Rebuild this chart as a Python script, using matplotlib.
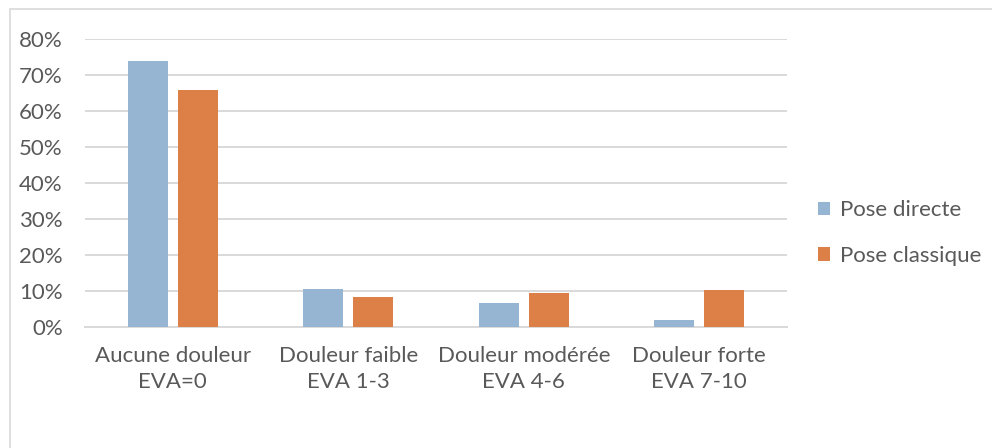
import numpy as np
import matplotlib.pyplot as plt
from matplotlib.patches import Rectangle

plt.rcParams["font.family"] = ["Lato", "DejaVu Sans"]

categories = ["Aucune douleur\nEVA=0", "Douleur faible\nEVA 1-3",
              "Douleur modérée\nEVA 4-6", "Douleur forte\nEVA 7-10"]
pose_directe = [73.8, 10.6, 6.7, 1.9]
pose_classique = [65.8, 8.3, 9.5, 10.4]
yticks = [0, 10, 20, 30, 40, 50, 60, 70, 80]

blue = "#95B5D3"
orange = "#DD8047"
grey = "#595959"

fig = plt.figure(figsize=(9.92, 4.48), dpi=100)
ax = fig.add_axes([85 / 992, 1 - 327 / 448, 702 / 992, 288 / 448])

# cadre du graphique (bords droit et bas hors image)
fig.patches.append(Rectangle((10 / 992, -0.1), 1.2, 1 - 9 / 448 + 0.1,
                             transform=fig.transFigure, fill=False,
                             edgecolor="#D9D9D9", linewidth=1.2))

x = np.arange(len(categories))
w = 0.228
ax.bar(x - 0.142, pose_directe, w, color=blue, label="Pose directe", zorder=3)
ax.bar(x + 0.142, pose_classique, w, color=orange, label="Pose classique", zorder=3)

ax.set_xlim(-0.5, len(categories) - 0.5)
ax.set_ylim(0, 80)
ax.set_yticks(yticks)
ax.set_yticklabels([f"{v}%" for v in yticks])
ax.set_xticks(x)
ax.set_xticklabels(categories, linespacing=1.35)
ax.yaxis.grid(True, color="#D9D9D9", linewidth=1.4, zorder=0)
ax.tick_params(length=0, labelsize=16, colors=grey)
ax.tick_params(axis="y", pad=16)
ax.tick_params(axis="x", pad=14)
for s in ["top", "right", "left"]:
    ax.spines[s].set_visible(False)
ax.spines["bottom"].set_color("#D9D9D9")
ax.spines["bottom"].set_linewidth(1.4)

leg = fig.legend(loc="center left", bbox_to_anchor=(818 / 992, 1 - 233 / 448),
                 frameon=False, fontsize=16, handlelength=0.55, handleheight=0.55,
                 handletextpad=0.45, labelspacing=1.15, labelcolor=grey,
                 borderaxespad=0, borderpad=0)

fig.savefig("out.png", dpi=100)
